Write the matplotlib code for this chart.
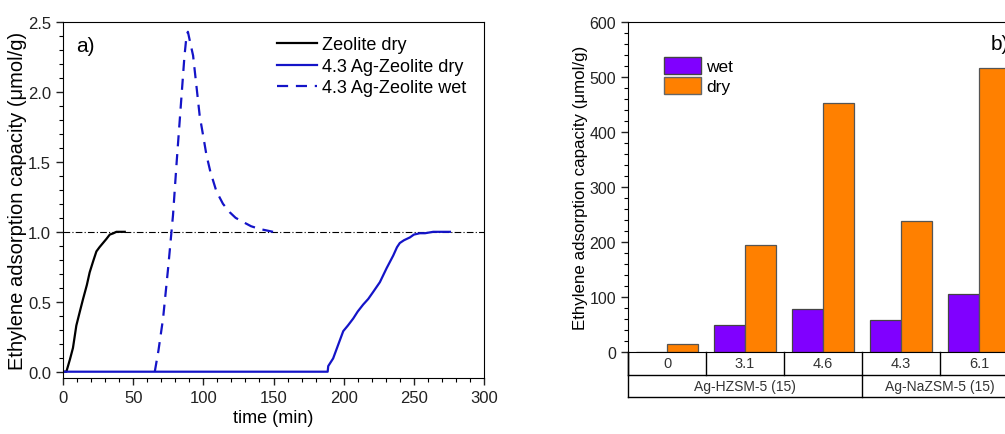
import matplotlib
matplotlib.use("Agg")
import matplotlib.pyplot as plt
import numpy as np
from matplotlib.ticker import MultipleLocator
from matplotlib.patches import Patch

plt.rcParams['font.family'] = ['Liberation Sans', 'DejaVu Sans']

# panel a) breakthrough curves
t_zeo = [0, 2.4, 5, 7.1, 9.5, 12, 14.3, 17, 19, 21.5, 23.8, 26, 28.5, 31, 33.3, 36, 38, 41, 44]
y_zeo = [0, 0, 0.09, 0.17, 0.33, 0.43, 0.52, 0.62, 0.71, 0.79, 0.86, 0.89, 0.92, 0.95, 0.98, 0.99, 1.0, 1.0, 1.0]

t_ag_dry = [0, 188.6, 189, 192.5, 196, 199.7, 203, 206.8, 210, 213.9, 217.5, 221, 225.8,
            230.6, 235.3, 238, 240, 243, 247.2, 250, 254.3, 258, 263.8, 270, 275.7]
y_ag_dry = [0, 0, 0.04, 0.095, 0.19, 0.29, 0.33, 0.38, 0.43, 0.48, 0.52, 0.57, 0.64,
            0.74, 0.83, 0.89, 0.92, 0.94, 0.96, 0.98, 0.99, 0.99, 1.0, 1.0, 1.0]

t_ag_wet = [65.4, 68, 71.3, 75, 78.4, 81, 84.3, 86.5, 88, 89, 90.5, 92.7, 95, 97.4, 100,
            102.2, 105, 109.3, 114, 118.8, 123, 128.4, 134, 140.2, 145, 149.7]
y_ag_wet = [0, 0.15, 0.38, 0.75, 1.12, 1.5, 1.95, 2.25, 2.40, 2.43, 2.36, 2.26, 2.05, 1.83, 1.68,
            1.55, 1.43, 1.29, 1.2, 1.14, 1.1, 1.07, 1.04, 1.02, 1.01, 1.0]

# panel b) capacities
ag_loading = ['0', '3.1', '4.6', '4.3', '6.1']
groups = ['Ag-HZSM-5 (15)', 'Ag-NaZSM-5 (15)']
group_size = [3, 2]
cap_wet = [0, 49, 79, 58, 105]
cap_dry = [14, 195, 452, 239, 517]

blue = '#1414c8'
purple = '#8000ff'
orange = '#ff8000'

fig = plt.figure(figsize=(10.05, 4.35), dpi=100)

# ---- a)
ax = fig.add_axes([63 / 1005, 1 - 379 / 435, 421 / 1005, 356 / 435])
ax.axhline(1.0, color='black', lw=0.8, ls=(0, (6, 2, 1, 2)), zorder=1)
ax.plot(t_zeo, y_zeo, color='black', lw=1.6, label='Zeolite dry')
ax.plot(t_ag_dry, y_ag_dry, color=blue, lw=1.6, label='4.3 Ag-Zeolite dry')
ax.plot(t_ag_wet, y_ag_wet, color=blue, lw=1.6, dashes=(5, 3.5), label='4.3 Ag-Zeolite wet')
ax.set_xlim(0, 300)
ax.set_ylim(-0.045, 2.5)
ax.xaxis.set_major_locator(MultipleLocator(50))
ax.xaxis.set_minor_locator(MultipleLocator(10))
ax.yaxis.set_major_locator(MultipleLocator(0.5))
ax.yaxis.set_minor_locator(MultipleLocator(0.1))
ax.yaxis.set_major_formatter(matplotlib.ticker.FormatStrFormatter('%.1f'))
ax.tick_params(which='major', direction='out', length=5, width=1, labelsize=12, colors='#222222')
ax.tick_params(which='minor', direction='out', length=3, width=0.8)
ax.set_xlabel('time (min)', fontsize=13, labelpad=3)
ax.set_ylabel('Ethylene adsorption capacity (\u03bcmol/g)', fontsize=14.5, labelpad=1)
ax.text(0.03, 0.935, 'a)', transform=ax.transAxes, fontsize=15, va='center')
ax.legend(loc='upper right', frameon=False, fontsize=13, handlelength=2.2,
          labelspacing=0.25, handletextpad=0.3, borderaxespad=0,
          bbox_to_anchor=(0.975, 0.98))

# ---- b)
bx = fig.add_axes([628 / 1005, 1 - 353 / 435, 390 / 1005, 330 / 435])
x = np.arange(len(ag_loading))
w = 0.4
bx.bar(x - w / 2, cap_wet, w, color=purple, edgecolor='#444444', lw=0.9, label='wet')
bx.bar(x + w / 2, cap_dry, w, color=orange, edgecolor='#555555', lw=0.9, label='dry')
bx.set_xlim(-0.5, len(ag_loading) - 0.5)
bx.set_ylim(0, 600)
bx.yaxis.set_major_locator(MultipleLocator(100))
bx.yaxis.set_minor_locator(MultipleLocator(20))
bx.set_xticks([])
bx.tick_params(which='major', direction='out', length=5, width=1, labelsize=11.5, colors='#222222')
bx.tick_params(which='minor', direction='out', length=3, width=0.8)
bx.set_ylabel('Ethylene adsorption capacity (\u03bcmol/g)', fontsize=12.2, labelpad=1)
bx.text(0.93, 0.935, 'b)', transform=bx.transAxes, fontsize=15, va='center')
bx.legend(handles=[Patch(facecolor=purple, edgecolor='#444444', label='wet'),
                   Patch(facecolor=orange, edgecolor='#666666', label='dry')],
          loc='upper left', frameon=False, fontsize=12.5, handlelength=2.1, handleheight=1.1,
          labelspacing=0.15, handletextpad=0.3, bbox_to_anchor=(0.075, 0.915), borderaxespad=0)

# category table below the bars
tr = bx.get_xaxis_transform()
r1 = -23 / 330
r2 = -45 / 330
lkw = dict(color='black', lw=1.0, transform=tr, clip_on=False)
bx.plot([-0.5, len(ag_loading) - 0.5], [r1, r1], **lkw)
bx.plot([-0.5, len(ag_loading) - 0.5], [r2, r2], **lkw)
for b in np.arange(len(ag_loading) + 1) - 0.5:
    bx.plot([b, b], [0, r1], **lkw)
for i, lab in enumerate(ag_loading):
    bx.text(i, r1 / 2, lab, transform=tr, ha='center', va='center', fontsize=10.5, color='#333333')
start = -0.5
bx.plot([start, start], [0, r2], **lkw)
for g, n in zip(groups, group_size):
    end = start + n
    bx.plot([end, end], [r1, r2], **lkw)
    bx.text((start + end) / 2, (r1 + r2) / 2, g, transform=tr, ha='center', va='center',
            fontsize=10, color='#333333')
    start = end

fig.savefig('out.png', dpi=100)
